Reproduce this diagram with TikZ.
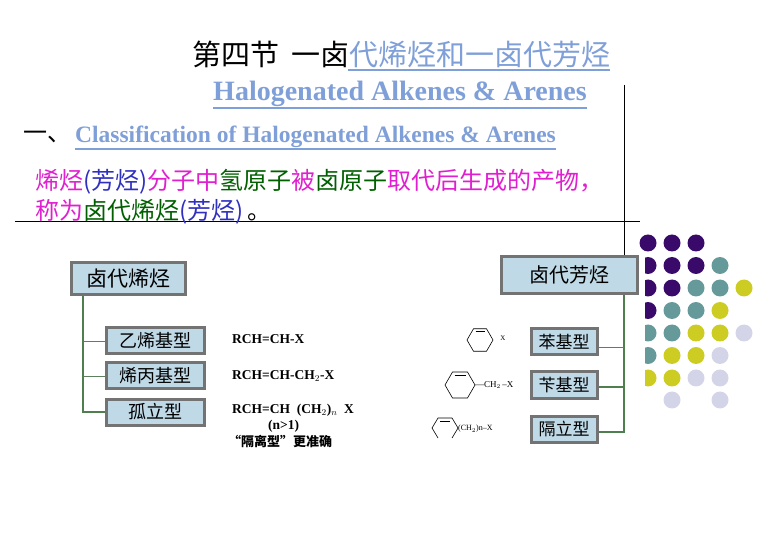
\documentclass[tikz,border=0pt]{standalone}
\usepackage{fontspec}
\setmainfont{Liberation Serif}
\newfontfamily\cjk{Noto Sans CJK SC}
\begin{document}
\begin{tikzpicture}[x=1pt,y=-1pt,
  box/.style={draw=gray!90!black,line width=3pt,fill=boxblue,inner sep=0pt,minimum height=26pt,minimum width=98pt,font=\cjk\fontsize{18}{18}\selectfont},
  dot/.style={circle,inner sep=0pt,minimum size=17pt},
  tree/.style={draw=treegreen,line width=2pt},
  thin/.style={draw=treegreen!70!gray,line width=0.8pt},
  form/.style={font=\bfseries\fontsize{13.5}{13.5}\selectfont,anchor=west,inner sep=0pt}]
\definecolor{boxblue}{HTML}{BFD9E6}
\definecolor{treegreen}{HTML}{4F7F4F}
\definecolor{ltblue}{HTML}{7F9FD8}
\definecolor{mag}{HTML}{E020D0}
\definecolor{blu}{HTML}{3030C0}
\definecolor{grn}{HTML}{006000}
\definecolor{dP}{HTML}{3A0A6A}
\definecolor{dT}{HTML}{669999}
\definecolor{dY}{HTML}{CCCC22}
\definecolor{dL}{HTML}{D4D4E8}
\useasboundingbox (0,0) rectangle (780,540);
% dots
\foreach \row/\cols in {0/{P,P,P},1/{P,P,P,T},2/{P,P,T,T,Y},3/{P,T,T,Y},4/{T,T,Y,Y,L},5/{T,Y,Y,L},6/{Y,Y,L,L}}{
  \foreach \c [count=\i from 0] in \cols {
    \node[dot,fill=d\c] (dot\row\i) at (648+24*\i,243+22.5*\row) {};
  }}
\node[dot,fill=dL] (dot71) at (672,400) {};
\node[dot,fill=dL] (dot73) at (720,400) {};
\fill[white] (628,256) rectangle (645,392);
% lines
\draw[line width=0.8pt] (15,221) -- (640,221);
\draw[line width=0.8pt] (624,85) -- (624,256);
% title
\node[anchor=west,inner sep=0pt,font=\cjk\fontsize{29}{29}\selectfont] (title) at (192,54) {第四节\hspace{12pt}一卤\textcolor{ltblue}{代烯烃和一卤代芳烃}};
\draw[ltblue,line width=1.2pt] (348,70) -- (title.south east |- 0,70);
\node[inner sep=0pt,font=\bfseries\fontsize{28}{28}\selectfont,text=ltblue] (sub) at (400,94) {Halogenated Alkenes \& Arenes};
\draw[ltblue,line width=1.2pt] ([yshift=-1pt]sub.south west) -- ([yshift=-1pt]sub.south east);
\node[anchor=west,inner sep=0pt,font=\cjk\fontsize{24}{24}\selectfont] (yi) at (23,137) {一、};
\node[anchor=west,inner sep=0pt,font=\bfseries\fontsize{23.5}{23.5}\selectfont,text=ltblue] (cls) at (75,137) {Classification of Halogenated Alkenes \& Arenes};
\draw[ltblue,line width=1.2pt] ([yshift=-1pt]cls.south west) -- ([yshift=-1pt]cls.south east);
\node[anchor=west,inner sep=0pt,font=\cjk\fontsize{24}{24}\selectfont] (l1) at (35,182) {\textcolor{mag}{烯烃}\textcolor{blu}{(芳烃)}\textcolor{mag}{分子中}\textcolor{grn}{氢原子}\textcolor{mag}{被}\textcolor{grn}{卤原子}\textcolor{mag}{取代后生成的产物，}};
\node[anchor=west,inner sep=0pt,font=\cjk\fontsize{24}{24}\selectfont] (l2) at (35,212) {\textcolor{mag}{称为}\textcolor{grn}{卤代烯烃}\textcolor{blu}{(芳烃)}\,。};
% left tree
\node[box,minimum width=114pt,minimum height=32pt,font=\cjk\fontsize{21}{21}\selectfont] (alk) at (128,279) {卤代烯烃};
\node[box] (b1) at (155,341) {乙烯基型};
\node[box] (b2) at (155,376) {烯丙基型};
\node[box] (b3) at (155,412) {孤立型};
\coordinate (t0) at (83,296);
\coordinate (t1) at (83,341);
\coordinate (t2) at (83,376);
\coordinate (t3) at (83,412);
\draw[tree] (t0) -- (t3) -- (b3.west);
\draw[thin] (t1) -- (b1.west);
\draw[thin] (t2) -- (b2.west);
\node[form] (f1) at (232,339) {RCH=CH-X};
\node[form] (f2) at (232,376) {RCH=CH-CH$_2$-X};
\node[form] (f3) at (232,410) {RCH=CH\ \ (CH$_2$)$_n$\ \ X};
\node[form] (f4) at (268,426) {(n>1)};
\node[anchor=west,inner sep=0pt,font=\cjk\bfseries\fontsize{13}{13}\selectfont] (f5) at (228,441) {“隔离型”更准确};
% right tree
\node[box,minimum width=136pt,minimum height=37pt,font=\cjk\fontsize{20}{20}\selectfont] (are) at (569,275) {卤代芳烃};
\node[box,minimum width=66pt,font=\cjk\fontsize{17}{17}\selectfont] (r1) at (564,342) {苯基型};
\node[box,minimum width=66pt,font=\cjk\fontsize{17}{17}\selectfont] (r2) at (564,385) {苄基型};
\node[box,minimum width=66pt,font=\cjk\fontsize{17}{17}\selectfont] (r3) at (564,429) {隔立型};
\coordinate (u0) at (624,295);
\coordinate (u1) at (624,347);
\coordinate (u2) at (624,387);
\coordinate (u3) at (624,432);
\draw[tree] (u0) -- (u3) -- (u3 -| r3.east);
\draw[thin] (u1) -- (u1 -| r1.east);
\draw[tree] (u2) -- (u2 -| r2.east);
% rings
\foreach \cx/\cy/\r in {480/340/13,460/385/15}{
  \draw[line width=0.6pt] (\cx+\r,\cy) -- (\cx+\r/2,\cy-0.866*\r) -- (\cx-\r/2,\cy-0.866*\r) -- (\cx-\r,\cy) -- (\cx-\r/2,\cy+0.866*\r) -- (\cx+\r/2,\cy+0.866*\r) -- cycle;
  \draw[line width=0.6pt] (\cx-\r/2+2,\cy-0.866*\r+3) -- (\cx+\r/2-2,\cy-0.866*\r+3);
}
\node[inner sep=0pt,font=\fontsize{7}{7}\selectfont] (xA) at (503,338) {X};
\node[anchor=west,inner sep=0pt,font=\fontsize{9}{9}\selectfont] (xB) at (475,385) {---CH$_2$\,--X};
\draw[line width=0.6pt] (432,428) -- (438,418) -- (452,418) -- (458,428) -- (452,438);
\draw[line width=0.6pt] (438,438) -- (432,428);
\draw[line width=0.6pt] (440,421) -- (450,421);
\node[anchor=west,inner sep=0pt,font=\fontsize{8}{8}\selectfont] (xC) at (458,429) {(CH$_2$)n--X};
\end{tikzpicture}
\end{document}
